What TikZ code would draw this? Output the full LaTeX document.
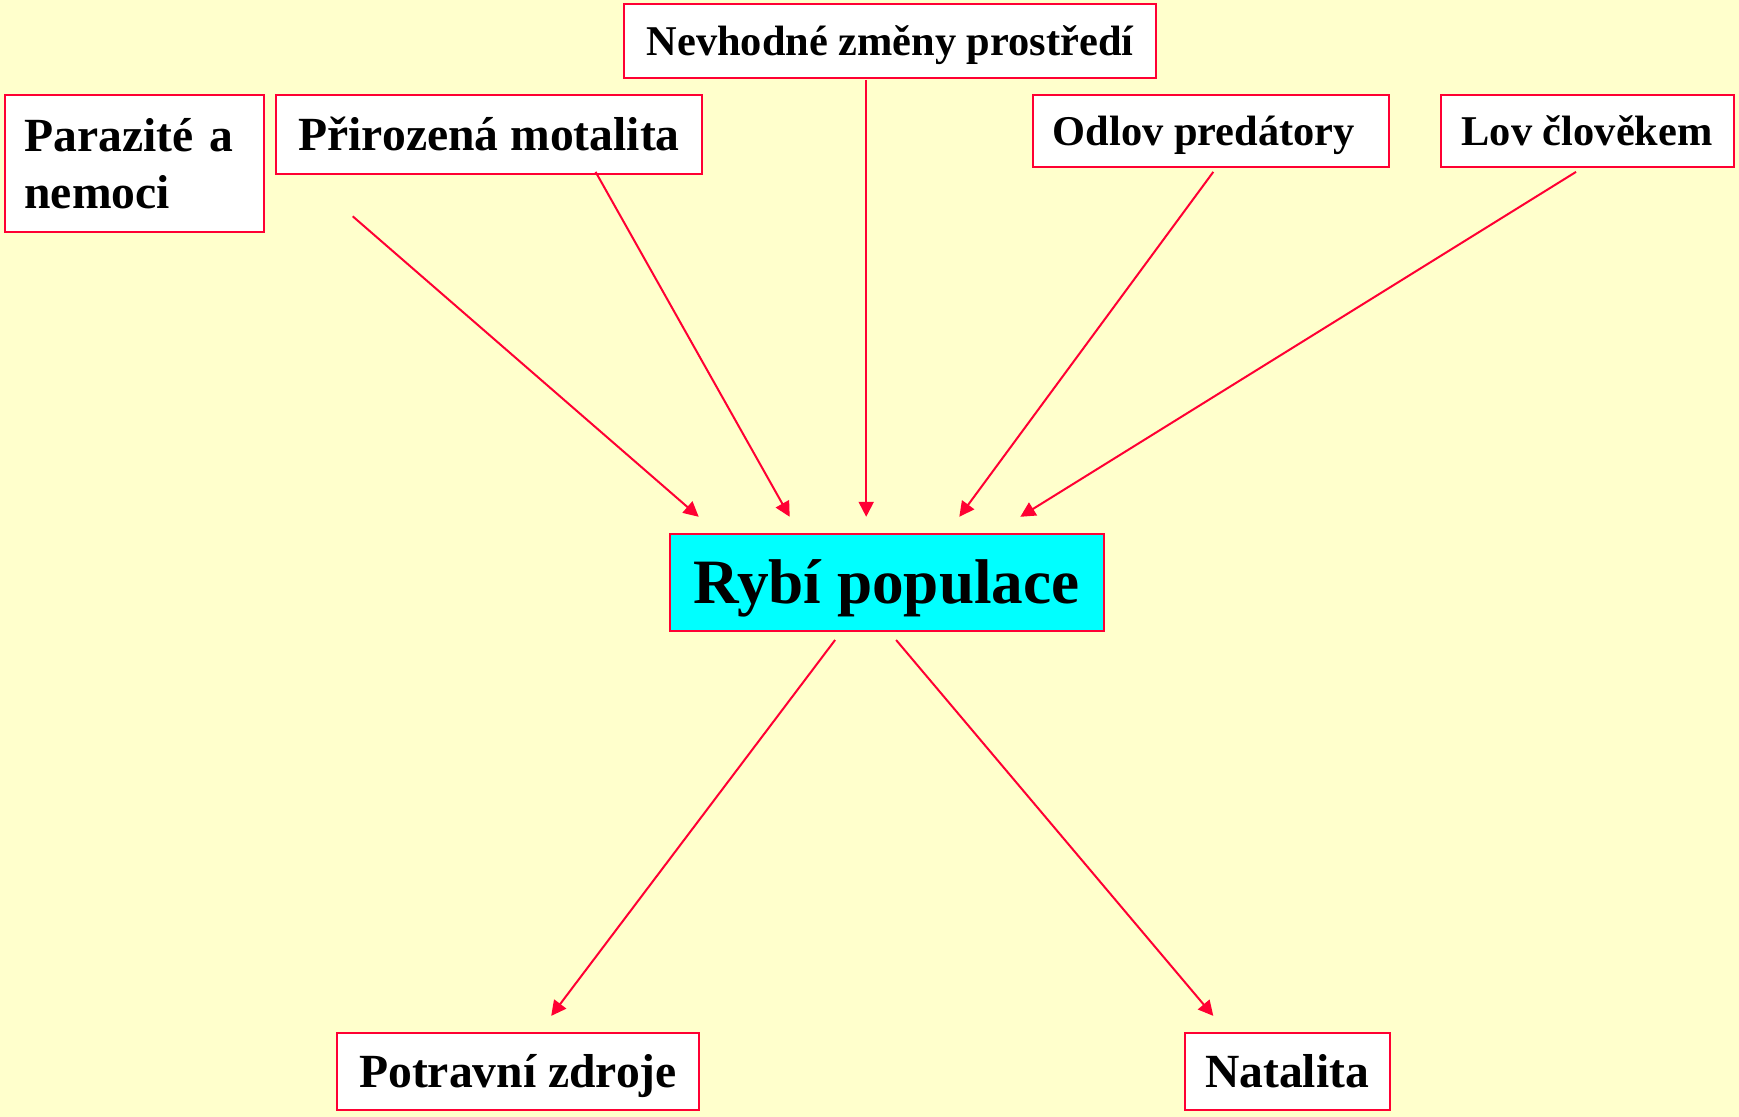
\documentclass[tikz,border=0pt]{standalone}
\usepackage{fontspec}
\setmainfont{Liberation Serif}
\usetikzlibrary{arrows.meta}
\definecolor{bgyellow}{HTML}{FFFFCC}
\definecolor{edgered}{HTML}{FF0033}
\definecolor{boxcyan}{HTML}{00FFFF}
\begin{document}
\begin{tikzpicture}[x=0.5pt,y=-0.5pt,
  box/.style={draw=edgered, line width=1pt, fill=white, inner xsep=10pt, inner ysep=0pt, text depth=0pt},
  fs24/.style={font=\fontsize{23.8}{28.3}\selectfont\bfseries, text height=15.76pt},
  fs21/.style={font=\fontsize{21.2}{25}\selectfont\bfseries, text height=14.03pt},
  fs32/.style={font=\fontsize{31.6}{37}\selectfont\bfseries, text height=20.92pt},
  conn/.style={draw=edgered, line width=1pt, -{Triangle[length=7.5pt,width=7.5pt]}}]
\fill[bgyellow] (0,0) rectangle (1739,1117);
\useasboundingbox (0,0) rectangle (1739,1117);

\node[draw=edgered, line width=1pt, fill=white, inner xsep=9.5pt, inner ysep=0pt,
  font=\fontsize{23.8}{28.3}\selectfont\bfseries, align=left, text width=110.3pt,
  minimum width=129.3pt, minimum height=68.2pt]
  (par) at (134.75,163.6) {Parazité a\\nemoci};
\node[box, fs24, minimum width=212.9pt, minimum height=39.4pt] (pri) at (489.1,134.75) {Přirozená motalita};
\node[box, fs21, minimum width=265.6pt, minimum height=36.6pt] (nev) at (890,41) {Nevhodné změny prostředí};
\node[box, fs21, minimum width=178pt, minimum height=36pt] (odl) at (1210.5,131.45) {Odlov predátory\hspace*{6.75pt}};
\node[box, fs21, minimum width=146.4pt, minimum height=36pt] (lov) at (1587.1,131.45) {Lov člověkem};
\node[box, fill=boxcyan, fs32, minimum width=216.8pt, minimum height=48.8pt] (ryb) at (886.7,582.3) {Rybí populace};
\node[box, fs24, minimum width=180.8pt, minimum height=38.8pt] (pot) at (518,1071.4) {Potravní zdroje};
\node[box, fs24, minimum width=102.6pt, minimum height=38.8pt] (nat) at (1287.1,1071.4) {Natalita};

\coordinate (s1) at (352.7,216.3);  \coordinate (e1) at (698.7,516.8);
\coordinate (s2) at (595.6,171.9);  \coordinate (e2) at (789.7,516.8);
\coordinate (s3) at (866.2,79.9);   \coordinate (e3) at (866.2,516.8);
\coordinate (s4) at (1213.3,171.9); \coordinate (e4) at (959.3,516.8);
\coordinate (s5) at (1576,171.9);   \coordinate (e5) at (1020.3,516.8);
\coordinate (s6) at (835.1,640);    \coordinate (e6) at (551.2,1015.9);
\coordinate (s7) at (896.1,640);    \coordinate (e7) at (1213.3,1015.9);

\draw[conn] (s1) -- (e1);
\draw[conn] (s2) -- (e2);
\draw[conn] (s3) -- (e3);
\draw[conn] (s4) -- (e4);
\draw[conn] (s5) -- (e5);
\draw[conn] (s6) -- (e6);
\draw[conn] (s7) -- (e7);
\end{tikzpicture}
\end{document}
